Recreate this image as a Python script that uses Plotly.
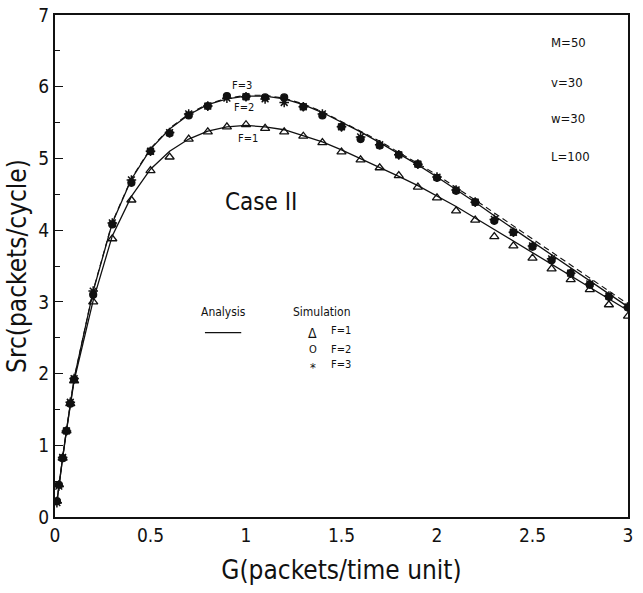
import plotly.graph_objects as go

# ---- data ----
G_sim = [0.01, 0.02, 0.04, 0.06, 0.08, 0.1, 0.2,
         0.3, 0.4, 0.5, 0.6, 0.7, 0.8, 0.9, 1.0, 1.1, 1.2, 1.3,
         1.4, 1.5, 1.6, 1.7, 1.8, 1.9, 2.0, 2.1, 2.2, 2.3, 2.4, 2.5,
         2.6, 2.7, 2.8, 2.9, 3.0]
F1_sim = [0.22, 0.45, 0.82, 1.20, 1.58, 1.90, 3.00,
          3.88, 4.42, 4.83, 5.02, 5.27, 5.37, 5.44, 5.47, 5.42, 5.37, 5.31,
          5.22, 5.09, 4.98, 4.87, 4.76, 4.60, 4.45, 4.27, 4.14, 3.91, 3.78, 3.61,
          3.46, 3.31, 3.17, 2.96, 2.80]
F2_sim = [0.22, 0.45, 0.82, 1.20, 1.58, 1.92, 3.10,
          4.08, 4.66, 5.10, 5.35, 5.60, 5.73, 5.87, 5.86, 5.85, 5.85, 5.72,
          5.60, 5.44, 5.27, 5.18, 5.05, 4.92, 4.73, 4.55, 4.39, 4.13, 3.97, 3.77,
          3.58, 3.40, 3.24, 3.07, 2.92]
F3_sim = [0.20, 0.43, 0.83, 1.20, 1.60, 1.93, 3.15,
          4.10, 4.70, 5.10, 5.36, 5.62, 5.73, 5.84, 5.86, 5.83, 5.78, 5.72,
          5.62, 5.44, 5.30, 5.19, 5.05, 4.92, 4.74, 4.56, 4.39, 4.15, 3.97, 3.78,
          3.60, 3.40, 3.25, 3.08, 2.93]

G_ana = G_sim
F1_ana = [0.21, 0.43, 0.82, 1.20, 1.57, 1.90, 3.02,
          3.92, 4.47, 4.85, 5.10, 5.27, 5.38, 5.44, 5.46, 5.44, 5.40, 5.32,
          5.23, 5.12, 5.00, 4.88, 4.75, 4.62, 4.48, 4.33, 4.17, 4.01, 3.85, 3.68,
          3.52, 3.36, 3.20, 3.04, 2.88]
F2_ana = [0.21, 0.43, 0.83, 1.21, 1.59, 1.93, 3.15,
          4.10, 4.71, 5.13, 5.41, 5.61, 5.75, 5.83, 5.87, 5.87, 5.83, 5.75,
          5.64, 5.51, 5.37, 5.22, 5.07, 4.91, 4.74, 4.57, 4.39, 4.20, 4.02, 3.83,
          3.65, 3.47, 3.29, 3.11, 2.93]
F3_ana = [0.21, 0.43, 0.83, 1.21, 1.59, 1.93, 3.16,
          4.11, 4.72, 5.14, 5.42, 5.62, 5.76, 5.84, 5.88, 5.88, 5.84, 5.76,
          5.65, 5.52, 5.38, 5.24, 5.09, 4.93, 4.77, 4.60, 4.42, 4.24, 4.06, 3.87,
          3.69, 3.51, 3.33, 3.15, 2.97]

x_ticks = [0, 0.5, 1, 1.5, 2, 2.5, 3]
x_tick_labels = ["0", "0.5", "1", "1.5", "2", "2.5", "3"]
y_ticks = [0, 1, 2, 3, 4, 5, 6, 7]
y_tick_labels = ["0", "1", "2", "3", "4", "5", "6", "7"]

FONT = "Liberation Sans Narrow, DejaVu Sans Condensed, Arial Narrow, DejaVu Sans, sans-serif"
BLACK = "#111111"

fig = go.Figure()

# analysis curves
fig.add_trace(go.Scatter(x=G_ana, y=F1_ana, mode="lines",
                         line=dict(color=BLACK, width=1.3), showlegend=False))
fig.add_trace(go.Scatter(x=G_ana, y=F2_ana, mode="lines",
                         line=dict(color=BLACK, width=1.3), showlegend=False))
fig.add_trace(go.Scatter(x=G_ana, y=F3_ana, mode="lines",
                         line=dict(color=BLACK, width=1.1, dash="6px,4px"), showlegend=False))

# simulation points
fig.add_trace(go.Scatter(x=G_sim, y=F1_sim, mode="markers",
                         marker=dict(symbol="triangle-up-open", size=8, color=BLACK,
                                     line=dict(width=1.3, color=BLACK)),
                         showlegend=False))
fig.add_trace(go.Scatter(x=G_sim, y=F2_sim, mode="markers",
                         marker=dict(symbol="circle", size=7, color=BLACK,
                                     line=dict(width=1.2, color=BLACK)),
                         showlegend=False))
fig.add_trace(go.Scatter(x=G_sim, y=F3_sim, mode="markers",
                         marker=dict(symbol="asterisk-open", size=8, color=BLACK,
                                     line=dict(width=1.5, color=BLACK)),
                         showlegend=False))

ann = []
def txt(x, y, s, size=12, xanchor="center"):
    ann.append(dict(x=x, y=y, xref="x", yref="y", text=s, showarrow=False,
                    font=dict(family=FONT, size=size, color=BLACK), xanchor=xanchor,
                    borderpad=0))

txt(0.98, 6.02, "F=3", 11)
txt(0.99, 5.71, "F=2", 11)
txt(1.01, 5.28, "F=1", 11)
txt(1.08, 4.39, "Case II", 24)
for yy, s in [(6.61, "M=50"), (6.06, "v=30"), (5.56, "w=30"), (5.02, "L=100")]:
    txt(2.59, yy, s, 13, "left")
# legend
txt(0.88, 2.86, "Analysis", 12)
txt(1.40, 2.86, "Simulation", 12)
txt(1.35, 2.57, "Δ", 14)
txt(1.35, 2.33, "O", 11)
txt(1.35, 2.08, "*", 13)
txt(1.44, 2.60, "F=1", 11, "left")
txt(1.44, 2.33, "F=2", 11, "left")
txt(1.44, 2.12, "F=3", 11, "left")

fig.add_shape(type="line", x0=0.785, x1=0.975, y0=2.57, y1=2.57,
              xref="x", yref="y", line=dict(color=BLACK, width=1.2))

fig.update_layout(
    width=643, height=593,
    margin=dict(l=55, r=15, t=15, b=76),
    paper_bgcolor="white", plot_bgcolor="white",
    annotations=ann,
    hovermode=False,
    font=dict(family=FONT, color=BLACK),
    xaxis=dict(range=[0, 3], tickvals=x_ticks, ticktext=x_tick_labels, automargin=False,
               ticklabeloverflow="allow",
               showgrid=False, zeroline=False, showline=True, linecolor=BLACK,
               linewidth=2, mirror=True, ticks="", tickfont=dict(size=19, family=FONT),
               title=dict(text="G(packets/time unit)", font=dict(size=26, family=FONT),
                          standoff=16)),
    yaxis=dict(range=[0, 7], tickvals=y_ticks, ticktext=y_tick_labels, automargin=False,
               ticklabeloverflow="allow",
               showgrid=False, zeroline=False, showline=True, linecolor=BLACK,
               linewidth=2, mirror=True, ticks="inside", ticklen=8, tickwidth=1.2,
               tickcolor=BLACK, tickfont=dict(size=19, family=FONT),
               minor=dict(tickvals=[0.5, 1.5, 2.5, 3.5, 4.5, 5.5, 6.5], ticks="inside",
                          ticklen=5, tickcolor=BLACK),
               title=dict(text="Src(packets/cycle)", font=dict(size=26, family=FONT),
                          standoff=4)),
)

fig.write_html("out.html", config={"displayModeBar": False},
               post_script="document.body.style.margin='0px';document.body.style.padding='0px';")
